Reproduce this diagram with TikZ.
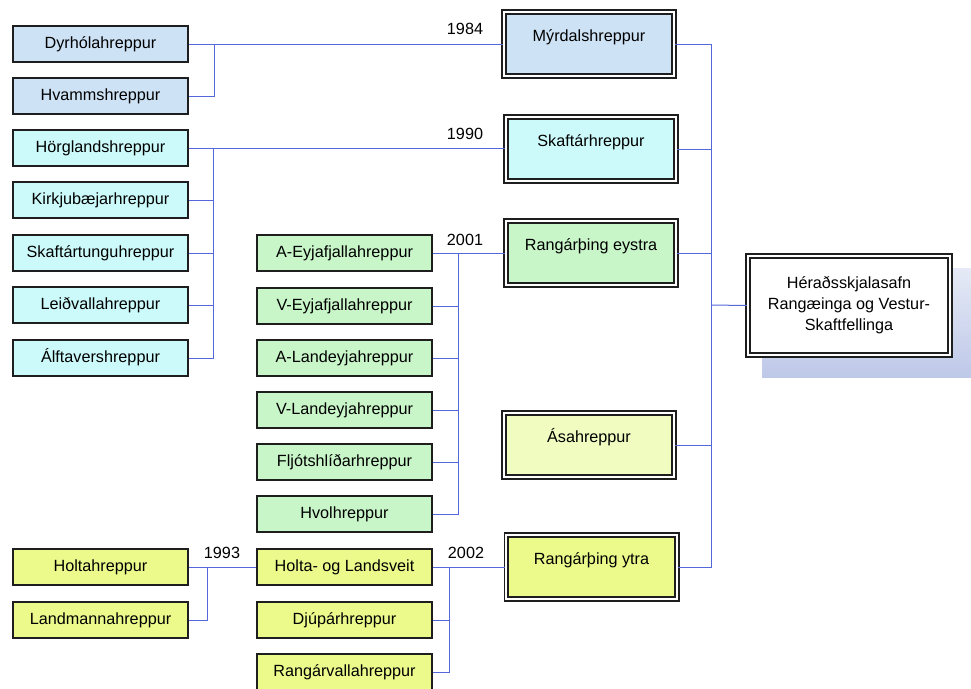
\documentclass[tikz,border=0pt]{standalone}
\usepackage{fontspec}
\setmainfont{Liberation Sans}
\definecolor{cblue}{RGB}{206,226,246}
\definecolor{ccyan}{RGB}{204,250,250}
\definecolor{cgreen}{RGB}{200,246,200}
\definecolor{cyellow}{RGB}{236,250,140}
\definecolor{cpale}{RGB}{240,252,192}
\definecolor{boxline}{RGB}{30,30,30}
\definecolor{conn}{RGB}{84,104,218}
\definecolor{shadowtop}{RGB}{230,234,246}
\definecolor{shadowbot}{RGB}{190,200,232}
\begin{document}
\begin{tikzpicture}[x=1pt,y=-1pt,
  box/.style={draw=boxline, line width=1.7pt, minimum width=175.5pt, minimum height=35.5pt, inner sep=0pt,
    font=\fontsize{16.2}{19}\selectfont, text height=11.5pt, text depth=3pt},
  dbox/.style={draw=boxline, line width=1.9pt, double=white, double distance=1.8pt,
    minimum width=170.4pt, minimum height=64.5pt, inner sep=0pt,
    font=\fontsize{16.2}{19}\selectfont, text height=11.5pt, text depth=17pt},
  conline/.style={draw=conn, line width=1pt},
  year/.style={font=\fontsize{16.2}{19}\selectfont, inner sep=0pt}
]
\useasboundingbox (0,0) rectangle (971,688);

% shadow of the final box
\shade[top color=shadowtop, bottom color=shadowbot] (762,268) rectangle (971,377);

% left column
\node[box, fill=cblue] (dyr) at (100.5,44) {Dyrhólahreppur};
\node[box, fill=cblue] (hvam) at (100.5,96) {Hvammshreppur};
\node[box, fill=ccyan] (horg) at (100.5,148) {Hörglandshreppur};
\node[box, fill=ccyan] (kirk) at (100.5,200) {Kirkjubæjarhreppur};
\node[box, fill=ccyan] (skaftt) at (100.5,253) {Skaftártunguhreppur};
\node[box, fill=ccyan] (leid) at (100.5,305) {Leiðvallahreppur};
\node[box, fill=ccyan] (alft) at (100.5,358) {Álftavershreppur};
\node[box, fill=cyellow] (holt) at (100.5,567) {Holtahreppur};
\node[box, fill=cyellow] (land) at (100.5,620) {Landmannahreppur};

% middle column
\node[box, fill=cgreen] (aeyja) at (344.5,253) {A-Eyjafjallahreppur};
\node[box, fill=cgreen] (veyja) at (344.5,306) {V-Eyjafjallahreppur};
\node[box, fill=cgreen] (aland) at (344.5,358) {A-Landeyjahreppur};
\node[box, fill=cgreen] (vland) at (344.5,410) {V-Landeyjahreppur};
\node[box, fill=cgreen] (fljot) at (344.5,462) {Fljótshlíðarhreppur};
\node[box, fill=cgreen] (hvol) at (344.5,514) {Hvolhreppur};
\node[box, fill=cyellow] (holtal) at (344.5,567) {Holta- og Landsveit};
\node[box, fill=cyellow] (djup) at (344.5,620) {Djúpárhreppur};
\node[box, fill=cyellow] (rangv) at (344.5,672) {Rangárvallahreppur};

% right column (double boxes)
\node[dbox, fill=cblue] (myr) at (589,44) {Mýrdalshreppur};
\node[dbox, fill=ccyan] (skaft) at (591,149) {Skaftárhreppur};
\node[dbox, fill=cgreen] (range) at (591,253) {Rangárþing eystra};
\node[dbox, fill=cpale] (asa) at (589,445) {Ásahreppur};
\node[dbox, fill=cyellow] (rangy) at (591.5,567) {Rangárþing ytra};

% final box
\node[draw=boxline, line width=1.9pt, double=white, double distance=1.8pt, fill=white,
  minimum width=202.4pt, minimum height=99.5pt, inner sep=0pt, align=center,
  font=\fontsize{16.2}{21}\selectfont] (her) at (849,305.5)
  {Héraðsskjalasafn\\Rangæinga og Vestur-\\Skaftfellinga};

% year labels
\node[year] (y1984) at (465,29) {1984};
\node[year] (y1990) at (465,134) {1990};
\node[year] (y2001) at (465,240) {2001};
\node[year] (y1993) at (222,553) {1993};
\node[year] (y2002) at (466,553) {2002};

% junction coordinates
\coordinate (j1) at (214,44);
\coordinate (j2) at (213,148);
\coordinate (j3) at (458,253);
\coordinate (j4) at (207,567);
\coordinate (j5) at (449,567);
\coordinate (jr) at (711,305);

% 1984
\draw[conline] (dyr.east) -- (myr.west);
\draw[conline] (hvam.east) -| (j1);
% 1990
\draw[conline] (horg.east) -- (horg.east -| skaft.west);
\foreach \n in {kirk,skaftt,leid,alft} \draw[conline] (\n.east) -| (j2);
% 2001
\draw[conline] (aeyja.east) -- (range.west);
\foreach \n in {veyja,aland,vland,fljot,hvol} \draw[conline] (\n.east) -| (j3);
% 1993
\draw[conline] (holt.east) -- (holtal.west);
\draw[conline] (land.east) -| (j4);
% 2002
\draw[conline] (holtal.east) -- (rangy.west);
\foreach \n in {djup,rangv} \draw[conline] (\n.east) -| (j5);
% to the archive
\foreach \n in {myr,skaft,range,asa,rangy} \draw[conline] (\n.east) -| (jr);
\draw[conline] (jr) -- (her.west);
\end{tikzpicture}
\end{document}
